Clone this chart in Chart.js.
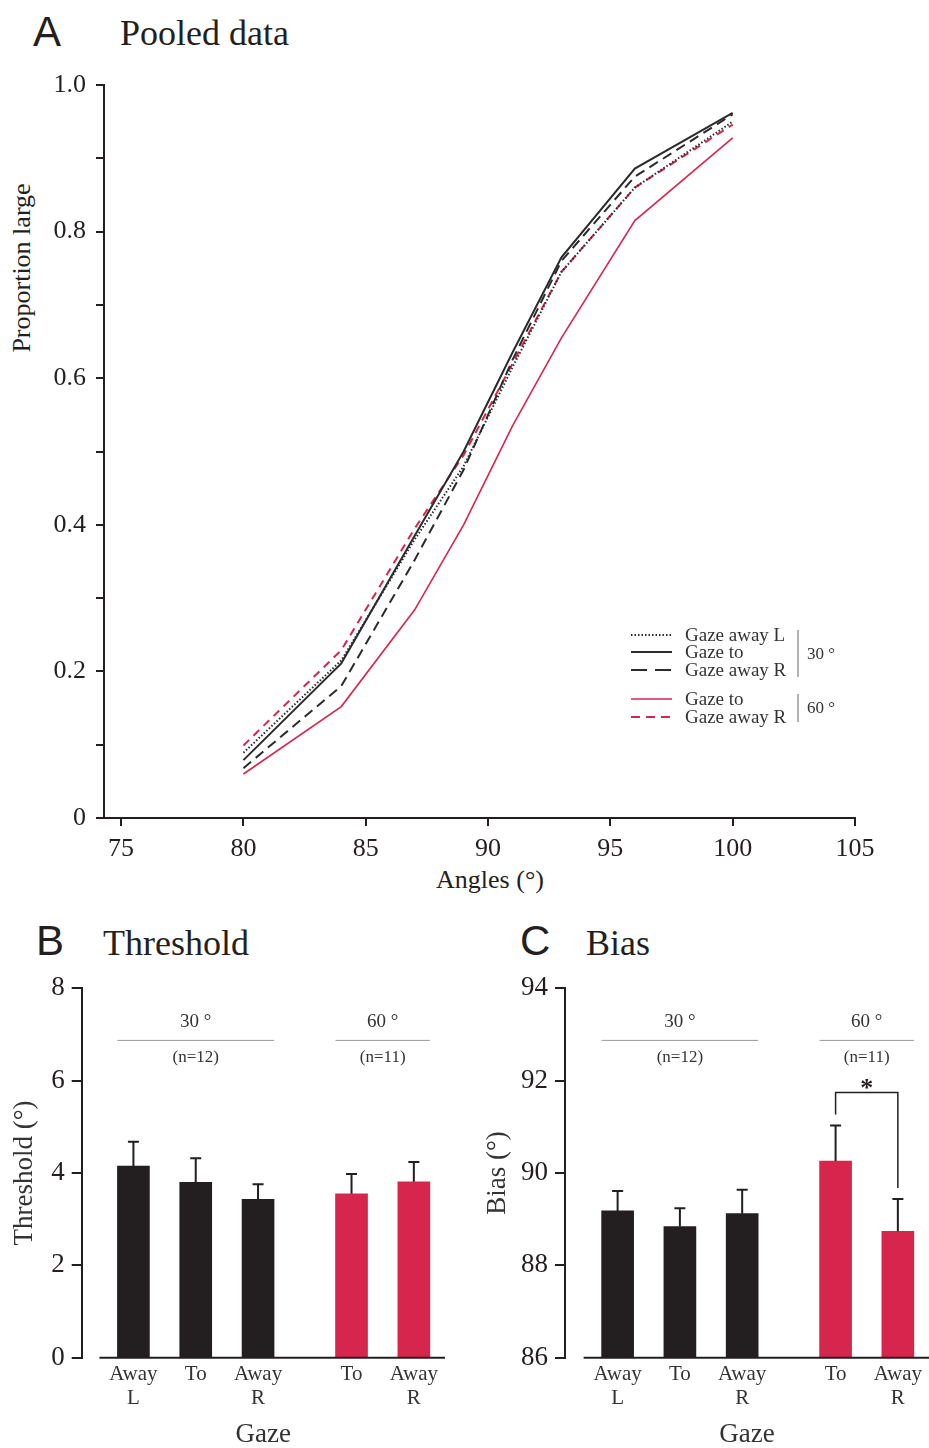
<!DOCTYPE html>
<html>
<head>
<meta charset="utf-8">
<script src="https://cdn.jsdelivr.net/npm/chart.js@4.4.0/dist/chart.umd.min.js"></script>
<style>
  html, body { margin: 0; padding: 0; background: #fff; }
  body { width: 929px; height: 1448px; position: relative; overflow: hidden;
         font-family: "Liberation Serif", "Times New Roman", serif; color: #231f20; }
  canvas { position: absolute; }
  .letter { position: absolute; font-family: "Liberation Sans", Arial, sans-serif; font-size: 42px; line-height: 42px; }
  .title { position: absolute; font-size: 36px; line-height: 36px; }
  .axlab { position: absolute; font-size: 26px; white-space: nowrap; transform: translate(-50%, -50%); }
  .rot { transform: translate(-50%, -50%) rotate(-90deg); }
</style>
</head>
<body>
<div class="letter" style="left:33px;top:11px">A</div>
<div class="title" style="left:120px;top:15px">Pooled data</div>
<div class="axlab rot" style="left:22px;top:268px">Proportion large</div>
<div class="axlab" style="left:490px;top:880px">Angles (°)</div>
<canvas id="chartA" width="929" height="900" style="left:0;top:0"></canvas>

<div class="letter" style="left:36px;top:920px">B</div>
<div class="title" style="left:103px;top:925px">Threshold</div>
<canvas id="chartB" width="465" height="548" style="left:0;top:900px"></canvas>

<div class="letter" style="left:520px;top:920px">C</div>
<div class="title" style="left:586px;top:925px">Bias</div>
<canvas id="chartC" width="464" height="548" style="left:465px;top:900px"></canvas>

<script>
// ---- panel A: pooled psychometric data ----
const angles = [80, 84, 87, 89, 91, 93, 96, 100];
const awayL30 = [0.089, 0.215, 0.380, 0.480, 0.615, 0.745, 0.860, 0.950];
const to30    = [0.079, 0.211, 0.385, 0.500, 0.635, 0.765, 0.886, 0.962];
const awayR30 = [0.068, 0.180, 0.352, 0.475, 0.625, 0.760, 0.875, 0.960];
const to60    = [0.060, 0.152, 0.284, 0.400, 0.535, 0.655, 0.815, 0.928];
const awayR60 = [0.099, 0.229, 0.395, 0.495, 0.620, 0.745, 0.860, 0.946];
const xTicksA = [75, 80, 85, 90, 95, 100, 105];
const yTickLabelsA = ['0', '0.2', '0.4', '0.6', '0.8', '1.0'];
const legendNames = ['Gaze away L', 'Gaze to', 'Gaze away R', 'Gaze to', 'Gaze away R'];

// ---- panels B and C ----
const gazeLabels = [['Away', 'L'], 'To', ['Away', 'R'], 'To', ['Away', 'R']];
const thresholdMean = [4.15, 3.80, 3.43, 3.55, 3.81];
const thresholdSem  = [0.53, 0.52, 0.33, 0.43, 0.43];
const biasMean = [89.18, 88.84, 89.12, 90.26, 88.74];
const biasSem  = [0.43, 0.40, 0.52, 0.77, 0.70];
const groupNames = ['30 °', '60 °'];
const groupN = ['(n=12)', '(n=11)'];
const thresholdTicks = [0, 2, 4, 6, 8];
const biasTicks = [86, 88, 90, 92, 94];

const INK = '#231f20';
const RED = 'rgb(214,38,78)';
const SERIF = '"Liberation Serif", "Times New Roman", serif';
Chart.defaults.font.family = SERIF;
Chart.defaults.color = INK;

// bar layout: five bars on half-step slots, gap between the two groups
const barSlots = [0, 2, 4, 7, 9];
const groupSpan = [[0, 2], [3, 4]];
const barColors = [INK, INK, INK, RED, RED];

const lineStyles = [
  { color: '#2b2b2b', width: 2, dash: [1.5, 2], legendDash: [1.5, 2] },
  { color: '#2b2b2b', width: 2, dash: [], legendDash: [] },
  { color: '#2b2b2b', width: 2, dash: [10, 6], legendDash: [16, 8] },
  { color: RED, width: 1.6, dash: [], legendDash: [] },
  { color: RED, width: 2, dash: [8, 6], legendDash: [9, 6] }
];
const seriesA = [awayL30, to30, awayR30, to60, awayR60];

const legendA = {
  id: 'legendA',
  afterDraw(chart) {
    const ctx = chart.ctx;
    const rows = [635, 652, 670, 699, 717];
    ctx.save();
    ctx.font = '19px ' + SERIF;
    ctx.textBaseline = 'middle';
    chart.data.datasets.forEach((ds, i) => {
      const y = rows[i];
      ctx.strokeStyle = ds.borderColor;
      ctx.lineWidth = ds.borderWidth;
      ctx.setLineDash(ds.legendDash);
      ctx.beginPath(); ctx.moveTo(631, y); ctx.lineTo(672, y); ctx.stroke();
      ctx.setLineDash([]);
      ctx.fillStyle = '#333';
      ctx.fillText(ds.label, 685, y + 1);
    });
    ctx.strokeStyle = '#666'; ctx.lineWidth = 1;
    ctx.beginPath();
    ctx.moveTo(798, 630); ctx.lineTo(798, 677);
    ctx.moveTo(798, 694); ctx.lineTo(798, 722);
    ctx.stroke();
    ctx.font = '17px ' + SERIF;
    ctx.fillText(groupNames[0], 807, 655);
    ctx.fillText(groupNames[1], 807, 709);
    ctx.restore();
  }
};

new Chart(document.getElementById('chartA'), {
  type: 'line',
  data: {
    datasets: seriesA.map((vals, i) => ({
      label: legendNames[i],
      data: angles.map((a, j) => ({ x: a, y: vals[j] })),
      borderColor: lineStyles[i].color,
      borderWidth: lineStyles[i].width,
      borderDash: lineStyles[i].dash,
      legendDash: lineStyles[i].legendDash,
      pointRadius: 0,
      fill: false,
      tension: 0
    }))
  },
  options: {
    responsive: false,
    animation: false,
    layout: { padding: { left: 0, right: 74, top: 85, bottom: 0 } },
    plugins: { legend: { display: false }, tooltip: { enabled: false } },
    scales: {
      x: {
        type: 'linear', min: 74.3, max: 105,
        afterBuildTicks: s => { s.ticks = xTicksA.map(v => ({ value: v })); },
        afterFit: s => { s.height = 82; },
        grid: { drawOnChartArea: false, drawTicks: true, tickLength: 8, color: INK, lineWidth: 2 },
        border: { display: true, color: INK, width: 2 },
        ticks: { font: { size: 26 }, padding: 8, maxRotation: 0, autoSkip: false, color: INK,
                 callback: v => String(v) }
      },
      y: {
        min: 0, max: 1,
        afterFit: s => { s.width = 104; },
        grid: { drawOnChartArea: false, drawTicks: true, tickLength: 8, color: INK, lineWidth: 2 },
        border: { display: true, color: INK, width: 2 },
        ticks: {
          stepSize: 0.1, autoSkip: false, font: { size: 26 }, padding: 10, color: INK,
          callback: v => { const k = Math.round(v * 10); return k % 2 === 0 ? yTickLabelsA[k / 2] : ''; }
        }
      }
    }
  },
  plugins: [legendA]
});

const barDecor = {
  id: 'barDecor',
  afterDatasetsDraw(chart, args, opts) {
    const ctx = chart.ctx, xs = chart.scales.x, ys = chart.scales.y, area = chart.chartArea;
    const bars = chart.getDatasetMeta(0).data;
    ctx.save();
    ctx.strokeStyle = INK; ctx.lineWidth = 2;
    // baseline, detached from the y axis
    ctx.beginPath();
    ctx.moveTo(xs.getPixelForValue(barSlots[0]) - 34, area.bottom);
    ctx.lineTo(area.right, area.bottom);
    ctx.stroke();
    // error bars (upper half only)
    const tops = bars.map((b, i) => ys.getPixelForValue(opts.mean[i] + opts.sem[i]));
    bars.forEach((b, i) => {
      ctx.beginPath();
      ctx.moveTo(b.x, b.y); ctx.lineTo(b.x, tops[i]);
      ctx.moveTo(b.x - 5.5, tops[i]); ctx.lineTo(b.x + 5.5, tops[i]);
      ctx.stroke();
    });
    // group labels
    const lineY = area.top + 52;
    ctx.textAlign = 'center'; ctx.textBaseline = 'middle'; ctx.fillStyle = '#333';
    groupSpan.forEach(([a, b], g) => {
      const x0 = bars[a].x - 16, x1 = bars[b].x + 16, cx = (x0 + x1) / 2;
      ctx.strokeStyle = '#9a9a9a'; ctx.lineWidth = 1;
      ctx.beginPath(); ctx.moveTo(x0, lineY); ctx.lineTo(x1, lineY); ctx.stroke();
      ctx.font = '19px ' + SERIF;
      ctx.fillText(groupNames[g], cx, lineY - 18);
      ctx.font = '17px ' + SERIF;
      ctx.fillText(groupN[g], cx, lineY + 17);
    });
    // significance bracket
    if (opts.bracket) {
      const [a, b] = opts.bracket;
      const ya = tops[a] - 11, yb = tops[b] - 11;
      const yTop = Math.min(ya, yb) - 22;
      ctx.strokeStyle = INK; ctx.lineWidth = 1.5;
      ctx.beginPath();
      ctx.moveTo(bars[a].x, ya); ctx.lineTo(bars[a].x, yTop);
      ctx.lineTo(bars[b].x, yTop); ctx.lineTo(bars[b].x, yb);
      ctx.stroke();
      ctx.fillStyle = INK;
      ctx.font = 'bold 26px ' + SERIF;
      ctx.textBaseline = 'alphabetic';
      ctx.fillText('*', (bars[a].x + bars[b].x) / 2, yTop + 3);
    }
    ctx.restore();
  }
};

function barChart(id, mean, sem, yMin, yMax, yTicks, yTitle, yWidth, xMin, padRight, titlePad, bracket) {
  return new Chart(document.getElementById(id), {
    type: 'bar',
    data: {
      datasets: [{
        data: barSlots.map((p, i) => ({ x: p, y: mean[i] })),
        backgroundColor: barColors,
        borderWidth: 0,
        barThickness: 32
      }]
    },
    options: {
      responsive: false,
      animation: false,
      layout: { padding: { left: 0, right: padRight, top: 88.4, bottom: 0 } },
      plugins: { legend: { display: false }, tooltip: { enabled: false },
                 barDecor: { mean: mean, sem: sem, bracket: bracket } },
      scales: {
        x: {
          type: 'linear', min: xMin, max: 10, offset: false,
          afterBuildTicks: s => { s.ticks = barSlots.map(v => ({ value: v })); },
          afterFit: s => { s.height = 90.3; },
          grid: { display: false, offset: false },
          border: { display: false },
          ticks: { font: { size: 21, lineHeight: 1.15 }, padding: -3, maxRotation: 0, autoSkip: false,
                   color: '#333', callback: (v, i) => gazeLabels[i] },
          title: { display: true, text: 'Gaze', font: { size: 27, lineHeight: 1 }, padding: 0, color: '#333' }
        },
        y: {
          min: yMin, max: yMax,
          afterBuildTicks: s => { s.ticks = yTicks.map(v => ({ value: v })); },
          afterFit: s => { s.width = yWidth; },
          grid: { drawOnChartArea: false, drawTicks: true, tickLength: 10, color: INK, lineWidth: 2 },
          border: { display: true, color: INK, width: 2 },
          ticks: { font: { size: 27 }, padding: 7, color: INK, callback: v => String(v) },
          title: { display: true, text: yTitle, font: { size: 27 }, padding: { top: titlePad, bottom: 0 }, color: '#333' }
        }
      }
    },
    plugins: [barDecor]
  });
}

barChart('chartB', thresholdMean, thresholdSem, 0, 8, thresholdTicks, 'Threshold (°)', 81.7, -1.66, 20, 9, null);
barChart('chartC', biasMean, biasSem, 86, 94, biasTicks, 'Bias (°)', 100, -1.69, 0, 17, [3, 4]);
</script>
</body>
</html>
